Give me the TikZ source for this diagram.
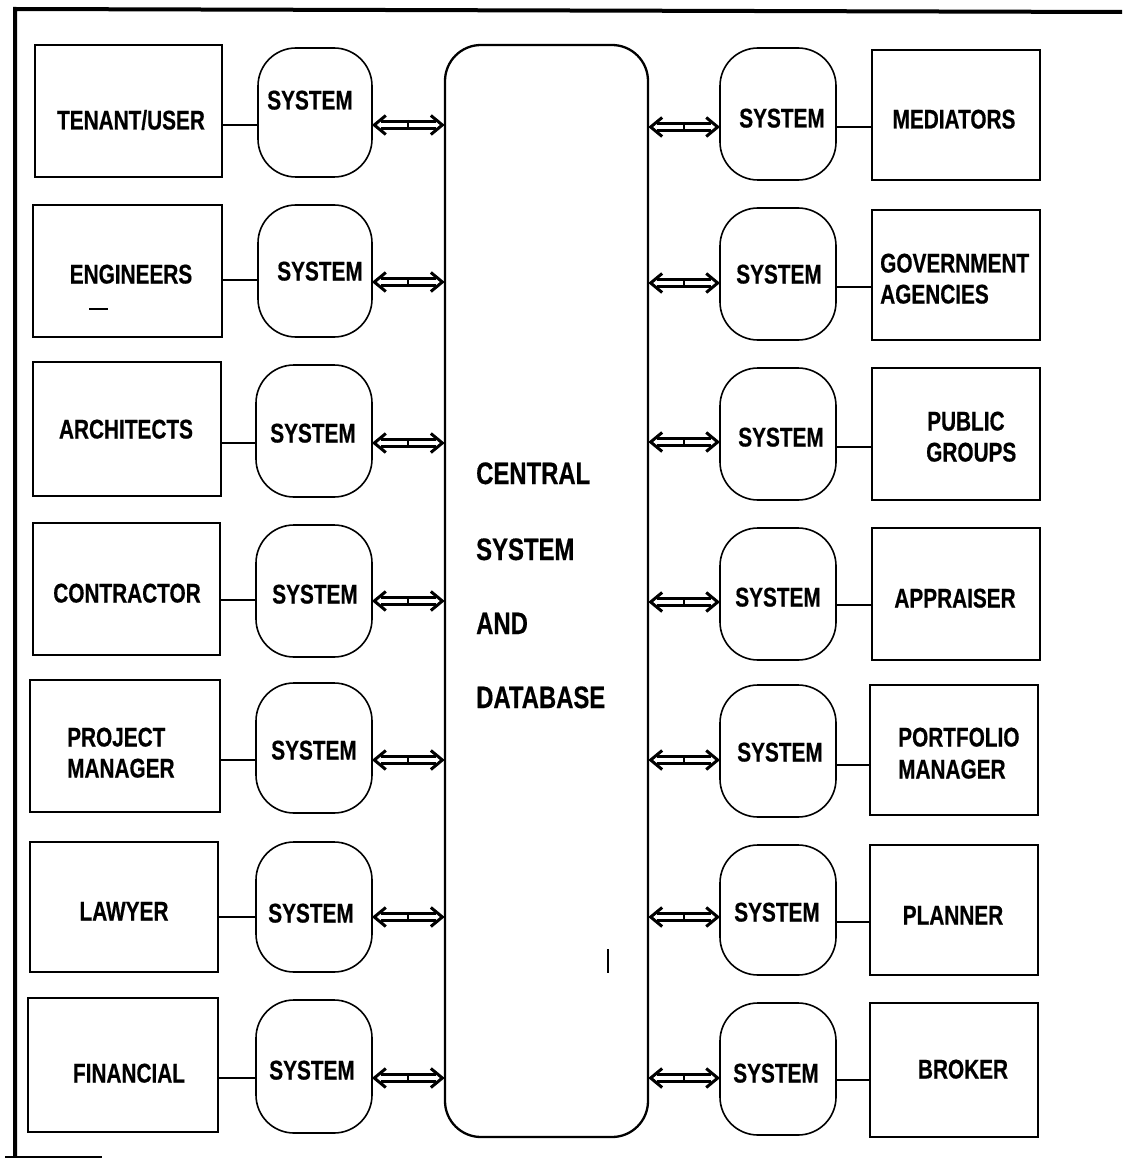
\documentclass[tikz,border=0pt]{standalone}
\usepackage{fontspec}
\setmainfont{Liberation Sans}[FakeStretch=0.77, BoldFeatures={FakeBold=0.5}]
\usetikzlibrary{calc}
\tikzset{
  box/.style={draw, line width=1.8pt, inner sep=0pt},
  sysbox/.style={draw, line width=1.6pt, inner sep=0pt, rounded corners=38pt},
  central/.style={draw, line width=2.3pt, inner sep=0pt, rounded corners=36pt},
  lbl/.style={inner sep=0pt, font=\fontsize{27}{32}\selectfont\bfseries, text height=19pt, text depth=0pt},
  lbll/.style={lbl, anchor=west},
  cbl/.style={inner sep=0pt, font=\fontsize{31}{36}\selectfont\bfseries, text height=22pt, text depth=0pt, anchor=west},
  link/.style={line width=2.6pt},
  arrline/.style={line width=2.8pt},
  arrhead/.style={line width=3pt, line join=miter, miter limit=10},
  tick/.style={line width=1.8pt},
  frame/.style={line width=4pt}
}
\newcommand\mkbox[6]{\node[#1, minimum width={(#5-#3)*1pt}, minimum height={(#6-#4)*1pt}] (#2) at ({(#3+#5)/2},{(#4+#6)/2}) {};}
% hollow double arrow between named coordinates #1 (left) and #2 (right)
\newcommand\dblarrow[2]{%
  \draw[arrline] ($(#1)+(8,-3.6)$) -- ($(#2)+(-8,-3.6)$);
  \draw[arrline] ($(#1)+(8,3.6)$) -- ($(#2)+(-8,3.6)$);
  \draw[arrhead] ($(#1)+(13,-9.5)$) -- ($(#1)+(1.5,0)$) -- ($(#1)+(13,9.5)$);
  \draw[arrhead] ($(#2)+(-13,-9.5)$) -- ($(#2)+(-1.5,0)$) -- ($(#2)+(-13,9.5)$);
  \draw[tick] ($(#1)!0.5!(#2)+(0,-5)$) -- ($(#1)!0.5!(#2)+(0,5)$);
}
\begin{document}
\begin{tikzpicture}[x=1pt,y=-1pt]
\useasboundingbox (0,0) rectangle (1122,1158);
% frame
\coordinate (f1) at (1122,12);
\coordinate (f2) at (15,9);
\coordinate (f3) at (15,1157);
\coordinate (f4) at (5,1157);
\coordinate (f5) at (102,1157);
\draw[frame] (f1) -- (f2) -- (f3);
\draw[line width=2pt] (f4) -- (f5);
% central
\mkbox{central}{C}{445}{45}{648}{1137}
% left boxes
\mkbox{box}{L1}{35}{45}{222}{177}
\mkbox{box}{L2}{33}{205}{222}{337}
\mkbox{box}{L3}{33}{362}{221}{496}
\mkbox{box}{L4}{33}{523}{220}{655}
\mkbox{box}{L5}{30}{680}{220}{812}
\mkbox{box}{L6}{30}{842}{218}{972}
\mkbox{box}{L7}{28}{998}{218}{1132}
% left systems
\mkbox{sysbox}{S1}{258}{48}{372}{177}
\mkbox{sysbox}{S2}{258}{205}{372}{337}
\mkbox{sysbox}{S3}{256}{365}{372}{497}
\mkbox{sysbox}{S4}{256}{525}{372}{657}
\mkbox{sysbox}{S5}{256}{683}{372}{813}
\mkbox{sysbox}{S6}{256}{842}{372}{972}
\mkbox{sysbox}{S7}{256}{1000}{372}{1133}
% right systems
\mkbox{sysbox}{R1}{720}{48}{836}{180}
\mkbox{sysbox}{R2}{720}{208}{836}{340}
\mkbox{sysbox}{R3}{720}{368}{836}{500}
\mkbox{sysbox}{R4}{720}{528}{836}{660}
\mkbox{sysbox}{R5}{720}{685}{836}{817}
\mkbox{sysbox}{R6}{720}{845}{836}{975}
\mkbox{sysbox}{R7}{720}{1003}{836}{1135}
% right boxes
\mkbox{box}{B1}{872}{50}{1040}{180}
\mkbox{box}{B2}{872}{210}{1040}{340}
\mkbox{box}{B3}{872}{368}{1040}{500}
\mkbox{box}{B4}{872}{528}{1040}{660}
\mkbox{box}{B5}{870}{685}{1038}{815}
\mkbox{box}{B6}{870}{845}{1038}{975}
\mkbox{box}{B7}{870}{1003}{1038}{1137}
% left connectors and arrows
\foreach \i/\ly/\ay in {1/125/125, 2/280/282, 3/443/443, 4/600/601, 5/760/760, 6/917/917, 7/1078/1078}{
  \coordinate (ly\i) at (0,\ly);
  \coordinate (ay\i) at (0,\ay);
  \draw[link] (L\i.east |- ly\i) -- (S\i.west |- ly\i);
  \coordinate (sa\i) at (S\i.east |- ay\i);
  \coordinate (ca\i) at (C.west |- ay\i);
  \dblarrow{sa\i}{ca\i}
}
% right connectors and arrows
\foreach \i/\ay/\ly in {1/127/127, 2/283/287, 3/442/447, 4/602/605, 5/760/765, 6/917/922, 7/1078/1080}{
  \coordinate (ry\i) at (0,\ly);
  \coordinate (ary\i) at (0,\ay);
  \draw[link] (R\i.east |- ry\i) -- (B\i.west |- ry\i);
  \coordinate (cb\i) at (C.east |- ary\i);
  \coordinate (rb\i) at (R\i.west |- ary\i);
  \dblarrow{cb\i}{rb\i}
}
% left labels
\node[lbl] (t1) at (131,120) {TENANT/USER};
\node[lbl] (t2) at (131,274) {ENGINEERS};
\node[lbl] (t3) at (126,429) {ARCHITECTS};
\node[lbl] (t4) at (127,593) {CONTRACTOR};
\node[lbll] (t5a) at (67,737) {PROJECT};
\node[lbll] (t5b) at (67,768) {MANAGER};
\node[lbl] (t6) at (124,911) {LAWYER};
\node[lbl] (t7) at (129,1073) {FINANCIAL};
\coordinate (m1) at (89,309);
\coordinate (m2) at (108,309);
\draw[line width=1.4pt] (m1) -- (m2);
% left system labels
\node[lbl] (u1) at (310,100) {SYSTEM};
\node[lbl] (u2) at (320,271) {SYSTEM};
\node[lbl] (u3) at (313,433) {SYSTEM};
\node[lbl] (u4) at (315,594) {SYSTEM};
\node[lbl] (u5) at (314,750) {SYSTEM};
\node[lbl] (u6) at (311,913) {SYSTEM};
\node[lbl] (u7) at (312,1070) {SYSTEM};
% right system labels
\node[lbl] (v1) at (782,118) {SYSTEM};
\node[lbl] (v2) at (779,274) {SYSTEM};
\node[lbl] (v3) at (781,437) {SYSTEM};
\node[lbl] (v4) at (778,597) {SYSTEM};
\node[lbl] (v5) at (780,752) {SYSTEM};
\node[lbl] (v6) at (777,912) {SYSTEM};
\node[lbl] (v7) at (776,1073) {SYSTEM};
% right labels
\node[lbl] (w1) at (954,119) {MEDIATORS};
\node[lbll] (w2a) at (880,263) {GOVERNMENT};
\node[lbll] (w2b) at (880,294) {AGENCIES};
\node[lbll] (w3a) at (927,421) {PUBLIC};
\node[lbll] (w3b) at (926,452) {GROUPS};
\node[lbl] (w4) at (955,598) {APPRAISER};
\node[lbll] (w5a) at (898,737) {PORTFOLIO};
\node[lbll] (w5b) at (898,769) {MANAGER};
\node[lbl] (w6) at (953,915) {PLANNER};
\node[lbl] (w7) at (963,1069) {BROKER};
% central labels
\node[cbl] (c1) at (476,473) {CENTRAL};
\node[cbl] (c2) at (476,549) {SYSTEM};
\node[cbl] (c3) at (476,623) {AND};
\node[cbl] (c4) at (476,697) {DATABASE};
\coordinate (n1) at (608,949);
\coordinate (n2) at (608,973);
\draw[line width=1.6pt] (n1) -- (n2);
\end{tikzpicture}
\end{document}
